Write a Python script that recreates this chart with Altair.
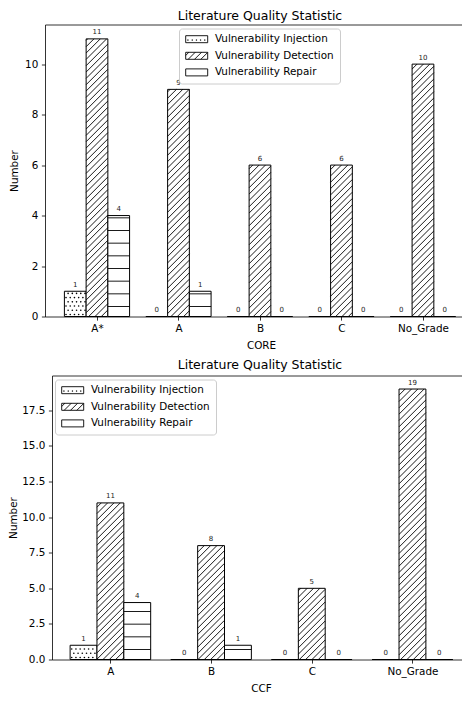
import math
import altair as alt
import pandas as pd

# ---------------- data ----------------
SERIES = ["Vulnerability Injection", "Vulnerability Detection", "Vulnerability Repair"]

CORE_CATEGORIES = ["A*", "A", "B", "C", "No_Grade"]
CORE_INJECTION = [1, 0, 0, 0, 0]
CORE_DETECTION = [11, 9, 6, 6, 10]
CORE_REPAIR = [4, 1, 0, 0, 0]
CORE_Y_TICKS = [0, 2, 4, 6, 8, 10]

CCF_CATEGORIES = ["A", "B", "C", "No_Grade"]
CCF_INJECTION = [1, 0, 0, 0]
CCF_DETECTION = [11, 8, 5, 19]
CCF_REPAIR = [4, 1, 0, 0]
CCF_Y_TICKS = [0, 2.5, 5, 7.5, 10, 12.5, 15, 17.5]

TITLE = "Literature Quality Statistic"

# ---------------- style ----------------
FONT = "DejaVu Sans"
BAR_W = 0.8 / 3
HATCH_CELL = 76.0
SP_LINE = HATCH_CELL / 6     # '-'
SP_DIAG = HATCH_CELL / 12    # '//'
SP_DOT = HATCH_CELL / 18     # '...'
PANEL_W = 417


def bar_table(categories, inj, det, rep):
    rows = []
    for i, cat in enumerate(categories):
        for j, (s, vals) in enumerate(zip(SERIES, [inj, det, rep])):
            c = i + (j - 1) * BAR_W
            rows.append({"category": cat, "series": s, "center": c,
                         "x": c - BAR_W / 2, "x2": c + BAR_W / 2,
                         "value": vals[i], "base": 0})
    return pd.DataFrame(rows)


def hatch_tables(bars, xdom, xrange_, ydom, height):
    ppx = (xrange_[1] - xrange_[0]) / (xdom[1] - xdom[0])
    ppy = height / (ydom[1] - ydom[0])
    to_px = lambda x: xrange_[0] + (x - xdom[0]) * ppx
    to_py = lambda y: height - (y - ydom[0]) * ppy
    from_px = lambda p: xdom[0] + (p - xrange_[0]) / ppx
    from_py = lambda p: ydom[0] + (height - p) / ppy
    segs, dots = [], []
    for _, b in bars.iterrows():
        if b.value <= 0:
            continue
        L, R = to_px(b.x), to_px(b.x2)
        T, B = to_py(b.value), to_py(0)
        if b.series == SERIES[1]:
            k0 = math.ceil((L + T) / SP_DIAG)
            k1 = math.floor((R + B) / SP_DIAG)
            for k in range(k0, k1 + 1):
                s = k * SP_DIAG
                x1 = max(L, s - B)
                x2 = min(R, s - T)
                if x2 - x1 > 0.4:
                    segs.append(dict(x=from_px(x1), y=from_py(s - x1),
                                     x2=from_px(x2), y2=from_py(s - x2)))
        elif b.series == SERIES[2]:
            p = B - 10.0
            while p > T + 0.6:
                segs.append(dict(x=b.x, x2=b.x2, y=from_py(p), y2=from_py(p)))
                p -= SP_LINE
        else:
            r = 0
            p = B - 2.0
            while p > T + 1.0:
                q = L + 1.6 + (r % 2) * SP_DOT / 2
                while q < R - 1.0:
                    dots.append(dict(x=from_px(q), y=from_py(p)))
                    q += SP_DOT
                p -= SP_DOT
                r += 1
    return pd.DataFrame(segs), pd.DataFrame(dots)


# legend swatch paths (symbol size 64 -> 4px per path unit)
U = 4.0
SW_L, SW_R, SW_T, SW_B = -4.0, 18.0, -3.5, 3.5


def _p(x, y):
    return f"{x / U:.3f},{y / U:.3f}"


RECT = f"M{_p(SW_L, SW_T)}L{_p(SW_R, SW_T)}L{_p(SW_R, SW_B)}L{_p(SW_L, SW_B)}Z"


def inj_path():
    d = RECT
    q = SW_L + 2.0
    while q < SW_R - 1.0:
        d += f"M{_p(q, 0.6)}L{_p(q + 0.5, 0.6)}L{_p(q + 0.5, 1.1)}L{_p(q, 1.1)}Z"
        q += SP_DOT
    return d


def det_path():
    d = RECT
    k0 = math.ceil((SW_L + SW_T) / SP_DIAG)
    k1 = math.floor((SW_R + SW_B) / SP_DIAG)
    for k in range(k0, k1 + 1):
        s = k * SP_DIAG + 2.0
        x1 = max(SW_L, s - SW_B)
        x2 = min(SW_R, s - SW_T)
        if x2 - x1 > 0.5:
            d += f"M{_p(x1, s - x1)}L{_p(x2, s - x2)}"
    return d


PATHS = [inj_path(), det_path(), RECT]


def panel(categories, inj, det, rep, xdom, xrange_, ydom, height, yticks, yfmt,
          xtitle, legend_x, legend_y, title_offset, y_offset, y_title_pad):
    bars = bar_table(categories, inj, det, rep)
    segs, dots = hatch_tables(bars, xdom, xrange_, ydom, height)
    xs = alt.Scale(domain=xdom, range=xrange_, nice=False, zero=False)
    ys = alt.Scale(domain=ydom, nice=False, zero=False)
    label_expr = "[" + ",".join(f"'{c}'" for c in categories) + "][datum.value]"
    xaxis = alt.Axis(values=list(range(len(categories))), labelExpr=label_expr,
                     title=xtitle, titlePadding=6, titleX=216, titleAlign="center")
    yaxis = alt.Axis(values=yticks, format=yfmt, title="Number",
                     titlePadding=y_title_pad, offset=y_offset)
    top_axis = alt.Axis(orient="top", labels=False, ticks=False, title=None, domain=True)

    rects = alt.Chart(bars).mark_rect(fill="white", stroke="black", strokeWidth=1).encode(
        x=alt.X("x:Q", scale=xs, axis=xaxis), x2="x2",
        y=alt.Y("value:Q", scale=ys, axis=yaxis), y2="base")
    rules = alt.Chart(segs).mark_rule(stroke="black", strokeWidth=0.9).encode(
        x=alt.X("x:Q", scale=xs, axis=top_axis), x2="x2",
        y=alt.Y("y:Q", scale=ys), y2="y2")
    pts = alt.Chart(dots).mark_circle(color="black", size=2.6, opacity=1).encode(
        x=alt.X("x:Q", scale=xs, axis=None), y=alt.Y("y:Q", scale=ys))
    labels = alt.Chart(bars).mark_text(font=FONT, fontSize=7, baseline="alphabetic",
                                       dy=-4.5, color="#222222").encode(
        x=alt.X("center:Q", scale=xs, axis=None),
        y=alt.Y("value:Q", scale=ys), text="value:Q")
    legend = alt.Chart(bars).transform_filter("false").mark_point(
        filled=False, color="black", strokeWidth=0.9, opacity=1).encode(
        x=alt.X("center:Q", scale=xs, axis=None),
        y=alt.Y("value:Q", scale=ys),
        shape=alt.Shape("series:N", scale=alt.Scale(domain=SERIES, range=PATHS),
                        legend=alt.Legend(title=None, orient="none", legendX=legend_x,
                                          legendY=legend_y, symbolSize=64,
                                          symbolStrokeWidth=0.9, symbolStrokeColor="black",
                                          symbolOpacity=1, labelFont=FONT,
                                          labelFontSize=10.4, labelColor="black",
                                          labelOffset=20, rowPadding=4.6, padding=5.5,
                                          strokeColor="#cccccc", fillColor="white",
                                          cornerRadius=3)))
    return alt.layer(rects, rules, pts, labels, legend).resolve_axis(
        x="independent").properties(
        width=PANEL_W, height=height,
        title=alt.TitleParams(text=TITLE, font=FONT, fontSize=12.5, fontWeight="normal",
                              color="black", anchor="middle",
                              offset=title_offset, dx=6.5))


top = panel(CORE_CATEGORIES, CORE_INJECTION, CORE_DETECTION, CORE_REPAIR,
            [-0.638, 4.479], [0, PANEL_W], [0, 11.57], 292, CORE_Y_TICKS, "d", "CORE",
            134, 4, 2, 0, 5)
bottom = panel(CCF_CATEGORIES, CCF_INJECTION, CCF_DETECTION, CCF_REPAIR,
               [-0.58, 3.492], [7, PANEL_W], [0, 19.95], 284, CCF_Y_TICKS, ".1f", "CCF",
               10, 4, 4, -7, 3)

chart = alt.vconcat(top, bottom, spacing=8).resolve_scale(
    shape="independent").resolve_legend(shape="independent").properties(
    padding={"left": 0, "top": 1.5, "right": 0, "bottom": 0}
).configure_view(stroke=None).configure_axis(
    labelFont=FONT, labelFontSize=10.4, labelColor="black",
    titleFont=FONT, titleFontSize=10.4, titleFontWeight="normal", titleColor="black",
    domainColor="black", domainWidth=0.8, tickColor="black", tickWidth=0.8,
    tickSize=3.6, labelPadding=3.6, grid=False)

chart.save("out.html", embed_options={"renderer": "svg", "actions": False})
